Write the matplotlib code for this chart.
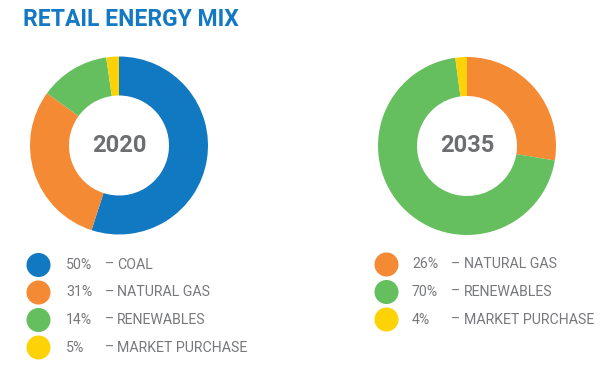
import matplotlib
matplotlib.use("Agg")
import matplotlib.pyplot as plt

# legend values (as printed) and slice sizes (as drawn in the rings)
labels_2020 = ["COAL", "NATURAL GAS", "RENEWABLES", "MARKET PURCHASE"]
pct_2020 = [50, 31, 14, 5]
slices_2020 = [55.0, 30.0, 12.7, 2.3]

labels_2035 = ["NATURAL GAS", "RENEWABLES", "MARKET PURCHASE"]
pct_2035 = [26, 70, 4]
slices_2035 = [27.6, 70.3, 2.1]

colors = {
    "COAL": "#1178c2",
    "NATURAL GAS": "#f58a35",
    "RENEWABLES": "#66bf5f",
    "MARKET PURCHASE": "#fdd308",
}
grey = "#77787b"
W, H = 616, 369

plt.rcParams["font.family"] = ["Roboto", "DejaVu Sans"]
fig = plt.figure(figsize=(W / 100, H / 100), dpi=100)
ax = fig.add_axes([0, 0, 1, 1])

def donut(cx, cy, values, labels, year):
    ax.pie(values, colors=[colors[l] for l in labels], startangle=90,
           counterclock=False, center=(cx, H - cy), radius=89, frame=True,
           wedgeprops=dict(width=39, edgecolor="none", linewidth=0))
    ax.text(cx, H - cy, year, ha="center", va="center", fontsize=17,
            fontweight="bold", color="#6d6e71")

def legend(x_dot, x_pct, x_dash, x_txt, y0, labels, pcts):
    for i, (lab, p) in enumerate(zip(labels, pcts)):
        y = H - (y0 + i * 27.5)
        ax.scatter([x_dot], [y], s=300, color=colors[lab], edgecolors="none")
        ax.text(x_pct, y, f"{p}%", ha="left", va="center", fontsize=10.2, color=grey)
        ax.text(x_dash, y, "–", ha="left", va="center", fontsize=10.2, color=grey)
        ax.text(x_txt, y, lab, ha="left", va="center", fontsize=10.2, color=grey)

donut(119, 145.5, slices_2020, labels_2020, "2020")
donut(467, 146, slices_2035, labels_2035, "2035")
ax.set_xlim(0, W)
ax.set_ylim(0, H)
ax.set_aspect("auto")
ax.axis("off")

legend(38.5, 66, 105, 117, 265, labels_2020, pct_2020)
legend(386.5, 412, 451, 464, 264.5, labels_2035, pct_2035)

fig.text(23 / W, 1 - 20 / H, "RETAIL ENERGY MIX", ha="left", va="center",
         fontsize=16.5, fontweight="bold", color="#1479c4")

fig.savefig("out.png", dpi=100)
